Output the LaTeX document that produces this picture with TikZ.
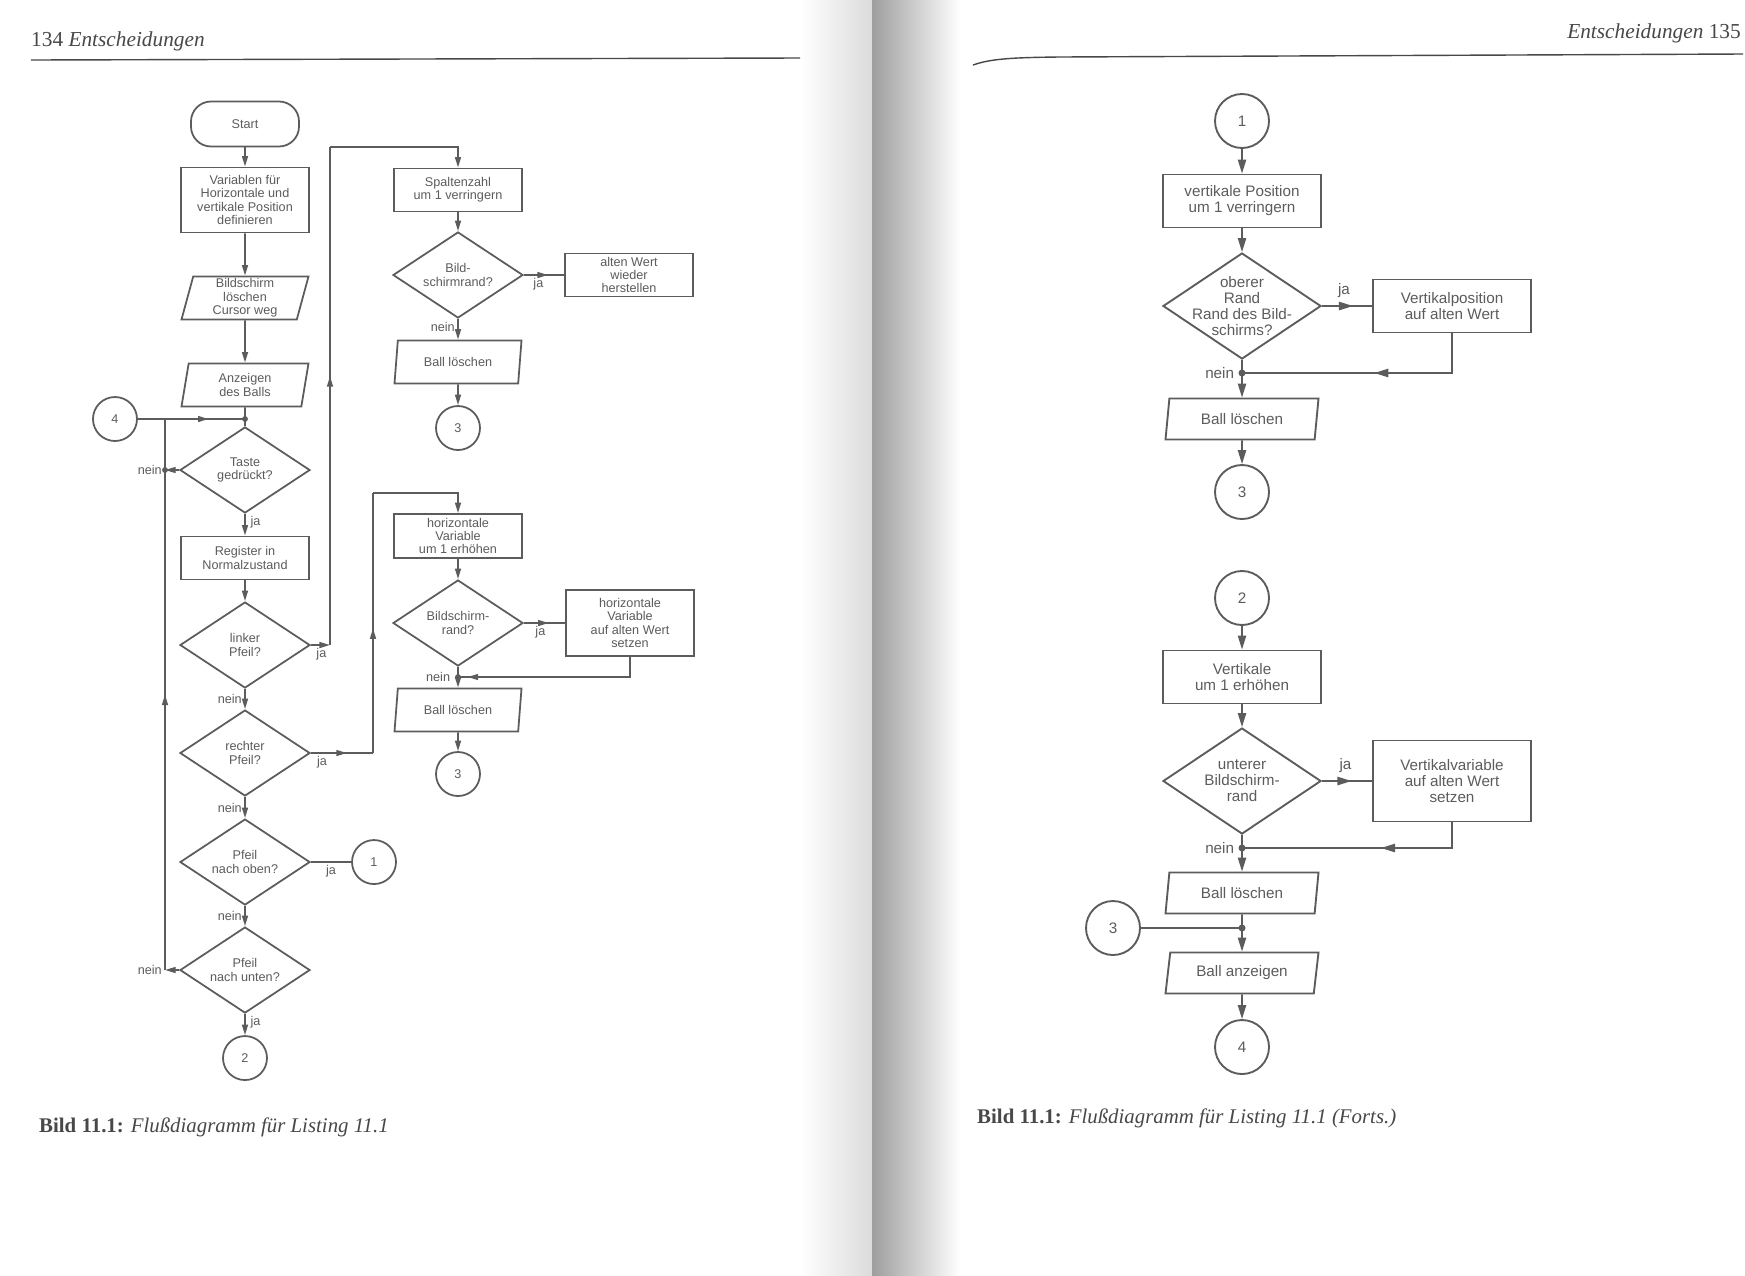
\documentclass[tikz,border=0pt]{standalone}
\usepackage{fontspec}
\setmainfont{Liberation Sans}
\newfontfamily\bookfont{Liberation Serif}
\usetikzlibrary{arrows.meta,shapes.geometric,decorations.markings}
\definecolor{ink}{RGB}{92,92,92}
\definecolor{print}{RGB}{72,72,72}

\begin{document}
\begin{tikzpicture}[x=0.03cm, y=-0.03cm, >={Triangle[length=9pt,width=5pt]},
  midarrow/.style={postaction={decorate,decoration={markings,mark=at position #1 with {\arrow{>}}}}}]
\tikzstyle{line}=[draw=ink, line width=1.5pt]
\tikzstyle{arrow}=[line, ->]
\tikzstyle{lbl}=[text=ink, inner sep=2pt, font=\fontsize{10.8}{11.4}\selectfont]
\tikzstyle{txt}=[text=ink, align=center, inner sep=0pt, font=\fontsize{10.8}{11.4}\selectfont]
\tikzstyle{block}=[line, rectangle, text=ink, align=center, inner sep=1pt, minimum width=3.84cm, minimum height=1.29cm, font=\fontsize{10.8}{11.4}\selectfont]
\tikzstyle{start}=[block, rounded corners=0.6cm, minimum width=3.24cm, minimum height=1.35cm]
\tikzstyle{io}=[block, trapezium, trapezium left angle=74, trapezium right angle=106, trapezium stretches body, minimum width=3.81cm]
\tikzstyle{decision}=[line, diamond, inner sep=0pt, minimum width=3.9cm, minimum height=2.58cm]
\tikzstyle{connector}=[line, circle, text=ink, inner sep=0pt, minimum size=1.32cm, font=\fontsize{10.8}{11.4}\selectfont]

\fill[white] (0,0) rectangle (1745,1275);
\useasboundingbox (0,0) rectangle (1745,1275);
\shade[left color=white, right color=black!14] (800,0) rectangle (872,1275);
\shade[left color=black!38, right color=white] (872,0) rectangle (960,1275);

% page 134
\node (h1) [anchor=base west, inner sep=0pt, text=print, font=\bookfont\fontsize{18.2}{20}\selectfont] at (31,46) {134 \textit{Entscheidungen}};
\draw[print, line width=1.2pt] (31,60) -- (800,58);

\node (l1) [start] at (245,124) {Start};
\node (l2) [block, minimum height=1.95cm, node distance=2.28cm, below of=l1] {Variablen für\\Horizontale und\\vertikale Position\\definieren};
\node (l3) [io, node distance=2.94cm, below of=l2] {Bildschirm\\löschen\\Cursor weg};
\node (l4) [io, node distance=2.61cm, below of=l3] {Anzeigen\\des Balls};
\node (l5) [decision, node distance=2.55cm, below of=l4, label={[txt]center:Taste\\gedrückt?}] {};
\node (l6) [block, node distance=2.64cm, below of=l5] {Register in\\Normalzustand};
\node (l7) [decision, node distance=2.61cm, below of=l6, label={[txt]center:linker\\Pfeil?}] {};
\node (l8) [decision, node distance=3.24cm, below of=l7, label={[txt]center:rechter\\Pfeil?}] {};
\node (l9) [decision, node distance=3.27cm, below of=l8, label={[txt]center:Pfeil\\nach oben?}] {};
\node (l10) [decision, node distance=3.24cm, below of=l9, label={[txt]center:Pfeil\\nach unten?}] {};
\node (l11) [connector, node distance=2.64cm, below of=l10] {2};
\node (l12) [connector] at (115,419) {4};
\node (l13) [connector, node distance=3.87cm, right of=l9] {1};
\coordinate (lj1) at (245,419);
\coordinate (lj2) at (165,470);
\coordinate (lc1) at (165,970);
\coordinate (lc2) at (165,419);
\coordinate (lc3) at (330,645);
\coordinate (lc4) at (330,147);
\coordinate (lc5) at (373,753);
\coordinate (lc6) at (373,493);

\node (m1) [block] at (458,190) {Spaltenzahl\\um 1 verringern};
\node (m2) [decision, node distance=2.55cm, below of=m1, label={[txt]center:Bild-\\schirmrand?}] {};
\node (m3) [block, node distance=5.13cm, right of=m2] {alten Wert\\wieder\\herstellen};
\node (m4) [io, node distance=2.61cm, below of=m2] {Ball löschen};
\node (m5) [connector, node distance=1.98cm, below of=m4] {3};
\node (m6) [block, minimum height=1.32cm] at (458,536) {horizontale\\Variable\\um 1 erhöhen};
\node (m7) [decision, node distance=2.61cm, below of=m6, label={[txt]center:Bildschirm-\\rand?}] {};
\node (m8) [block, minimum height=1.98cm, node distance=5.16cm, right of=m7] {horizontale\\Variable\\auf alten Wert\\setzen};
\node (m9) [io, node distance=2.61cm, below of=m7] {Ball löschen};
\node (m10) [connector, node distance=1.92cm, below of=m9] {3};
\coordinate (mj1) at (458,677);

\draw [arrow] (l1) -- (l2);
\draw [arrow] (l2) -- (l3);
\draw [arrow] (l3) -- (l4);
\draw [line] (l4) -- (l5);
\draw [line, midarrow=0.66] (l12) -- (lj1);
\fill [ink] (lj1) circle (2.5pt);
\draw [arrow] (l5) -- (lj2) node[lbl, left] {nein};
\fill [ink] (lj2) circle (2.5pt);
\draw [arrow] (l5) -- node[lbl, right=2pt, pos=0.4] {ja} (l6);
\draw [arrow] (l6) -- (l7);
\draw [arrow] (l7) -- node[lbl, below, pos=0.55] {ja} (lc3);
\draw [line, midarrow=0.54] (lc3) -- (lc4);
\draw [arrow] (lc4) -| (m1.north);
\draw [arrow] (l7) -- node[lbl, left] {nein} (l8);
\draw [line, midarrow=0.58] (l8) -- node[lbl, below, pos=0.18] {ja} (lc5);
\draw [line, midarrow=0.48] (lc5) -- (lc6);
\draw [arrow] (lc6) -| (m6.north);
\draw [arrow] (l8) -- node[lbl, left] {nein} (l9);
\draw [line] (l9) -- node[lbl, below] {ja} (l13);
\draw [arrow] (l9) -- node[lbl, left] {nein} (l10);
\draw [arrow] (l10) -- (lc1) node[lbl, left] {nein};
\draw [line, midarrow=0.5] (lc1) -- (lc2);
\draw [arrow] (l10) -- node[lbl, right=2pt, pos=0.4] {ja} (l11);

\draw [arrow] (m1) -- (m2);
\draw [line, midarrow=0.6] (m2) -- node[lbl, below, pos=0.36] {ja} (m3);
\draw [arrow] (m2) -- node[lbl, left, pos=0.4] {nein} (m4);
\draw [arrow] (m4) -- (m5);
\draw [arrow] (m6) -- (m7);
\draw [line, midarrow=0.6] (m7) -- node[lbl, below, pos=0.4] {ja} (m8);
\draw [arrow] (m7) -- (m9);
\draw [line, midarrow=0.95] (m8) |- (mj1) node[lbl, left=4pt] {nein};
\fill [ink] (mj1) circle (2.5pt);
\draw [arrow] (m9) -- (m10);

\node (cap1) [anchor=base west, inner sep=0pt, text=print, font=\bookfont\fontsize{17.8}{20}\selectfont] at (39,1132) {\textbf{Bild 11.1:} \textit{Flußdiagramm für Listing 11.1}};

% page 135
\node (h2) [anchor=base east, inner sep=0pt, text=print, font=\bookfont\fontsize{18.2}{20}\selectfont] at (1741,38) {\textit{Entscheidungen} 135};
\draw[print, line width=1.2pt] (973,65) .. controls (990,59) and (1010,57.5) .. (1060,57) -- (1743,54);

\begin{scope}[>={Triangle[length=12pt,width=7pt]},
  line/.append style={line width=1.6pt},
  block/.append style={minimum width=4.74cm, minimum height=1.59cm, font=\fontsize{13}{13.7}\selectfont},
  io/.append style={minimum width=4.59cm, minimum height=1.23cm},
  decision/.append style={minimum width=4.74cm, minimum height=3.18cm},
  connector/.append style={minimum size=1.62cm, font=\fontsize{13}{14}\selectfont},
  txt/.append style={font=\fontsize{13}{13.7}\selectfont},
  lbl/.append style={font=\fontsize{13}{14}\selectfont}]
\node (r1) [connector] at (1242,121) {1};
\node (r2) [block, node distance=2.4cm, below of=r1] {vertikale Position\\um 1 verringern};
\node (r3) [decision, node distance=3.15cm, below of=r2, label={[txt]center:oberer\\Rand\\Rand des Bild-\\schirms?}] {};
\node (r4) [block, node distance=6.3cm, right of=r3] {Vertikalposition\\auf alten Wert};
\node (r5) [io, node distance=3.39cm, below of=r3] {Ball löschen};
\node (r6) [connector, node distance=2.19cm, below of=r5] {3};
\coordinate (rj1) at (1242,373);
\node (r7) [connector] at (1242,598) {2};
\node (r8) [block, node distance=2.37cm, below of=r7] {Vertikale\\um 1 erhöhen};
\node (r9) [decision, node distance=3.12cm, below of=r8, label={[txt]center:unterer\\Bildschirm-\\rand}] {};
\node (r10) [block, minimum height=2.43cm, node distance=6.3cm, right of=r9] {Vertikalvariable\\auf alten Wert\\setzen};
\node (r11) [io, node distance=3.36cm, below of=r9] {Ball löschen};
\node (r12) [io, node distance=2.4cm, below of=r11] {Ball anzeigen};
\node (r13) [connector, node distance=2.22cm, below of=r12] {4};
\node (r14) [connector] at (1113,928) {3};
\coordinate (rj2) at (1242,848);
\coordinate (rj3) at (1242,928);

\draw [arrow] (r1) -- (r2);
\draw [arrow] (r2) -- (r3);
\draw [line, midarrow=0.62] (r3) -- node[lbl, above=4pt, pos=0.44] {ja} (r4);
\draw [line, midarrow=0.47] (r4) |- (rj1) node[lbl, left=4pt] {nein};
\draw [arrow] (r3) -- (r5);
\fill [ink] (rj1) circle (3pt);
\draw [arrow] (r5) -- (r6);
\draw [arrow] (r7) -- (r8);
\draw [arrow] (r8) -- (r9);
\draw [line, midarrow=0.59] (r9) -- node[lbl, above=4pt, pos=0.47] {ja} (r10);
\draw [line, midarrow=0.41] (r10) |- (rj2) node[lbl, left=4pt] {nein};
\draw [arrow] (r9) -- (r11);
\fill [ink] (rj2) circle (3pt);
\draw [line] (r14) -- (rj3);
\draw [arrow] (r11) -- (r12);
\fill [ink] (rj3) circle (3pt);
\draw [arrow] (r12) -- (r13);
\end{scope}

\node (cap2) [anchor=base west, inner sep=0pt, text=print, font=\bookfont\fontsize{17.8}{20}\selectfont] at (977,1123) {\textbf{Bild 11.1:} \textit{Flußdiagramm für Listing 11.1 (Forts.)}};
\end{tikzpicture}
\end{document}
